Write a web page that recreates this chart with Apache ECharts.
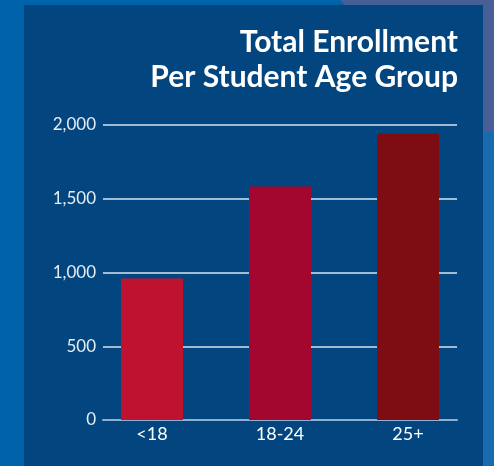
<!DOCTYPE html>
<html><head><meta charset="utf-8">
<script src="https://cdn.jsdelivr.net/npm/echarts@6/dist/echarts.min.js"></script>
<style>html,body{margin:0;padding:0;background:#0063a9;}#c{width:494px;height:466px;}</style>
</head><body><div id="c"></div>
<script>
const categories = ['<18', '18-24', '25+'];
const enrollment = [960, 1583, 1940];
const barColors = ['#be1230', '#a3062f', '#7e0d13'];
const yTicks = [0, 500, 1000, 1500, 2000];
const titleLines = ['Total Enrollment', 'Per Student Age Group'];

const chart = echarts.init(document.getElementById('c'), null, {renderer: 'canvas'});
const labelFont = 'Lato, "Noto Sans", sans-serif';
chart.setOption({
  animation: false,
  backgroundColor: '#0063a9',
  graphic: [
    {type: 'polygon', z: -10, shape: {points: [[340,0],[494,0],[494,142],[483,132],[483,5],[345,5]]}, style: {fill: '#475e97'}},
    {type: 'rect', z: -10, shape: {x: 483, y: 132, width: 11, height: 334}, style: {fill: '#1a6aae'}},
    {type: 'rect', z: -9, shape: {x: 24, y: 5, width: 459, height: 461}, style: {fill: '#03467f'}},
    {type: 'text', z: 10, x: 458, y: 42, style: {text: titleLines[0], fill: '#ffffff', font: 'bold 30px Lato, sans-serif', textAlign: 'right', textVerticalAlign: 'middle'}},
    {type: 'text', z: 10, x: 458, y: 77, style: {text: titleLines[1], fill: '#ffffff', font: 'bold 30px Lato, sans-serif', textAlign: 'right', textVerticalAlign: 'middle'}}
  ],
  grid: [
    {left: 103, right: 37, top: 125, bottom: 46},
    {left: 88, right: 22, top: 125, bottom: 46}
  ],
  xAxis: [
    {type: 'category', gridIndex: 0, data: categories, axisLine: {lineStyle: {color: '#8fb0d2', width: 2}}, axisTick: {show: false}, axisLabel: {show: false}},
    {type: 'category', gridIndex: 1, data: categories, axisLine: {show: false}, axisTick: {show: false},
     axisLabel: {color: '#ffffff', fontFamily: labelFont, fontSize: 18, margin: 5}}
  ],
  yAxis: [
    {type: 'value', gridIndex: 0, min: yTicks[0], max: yTicks[yTicks.length-1], interval: 500,
     axisLine: {show: false}, axisTick: {show: false},
     splitLine: {lineStyle: {color: '#d8e4f0', width: 1.5}},
     axisLabel: {color: '#e4ecf4', fontFamily: labelFont, fontSize: 17, margin: 7,
       formatter: v => v.toLocaleString('en-US')}},
    {type: 'value', gridIndex: 1, min: yTicks[0], max: yTicks[yTicks.length-1], show: false}
  ],
  series: [{
    type: 'bar', xAxisIndex: 1, yAxisIndex: 1,
    barWidth: 62,
    data: enrollment.map((v, i) => ({value: v, itemStyle: {color: barColors[i]}}))
  }]
});
</script></body></html>
